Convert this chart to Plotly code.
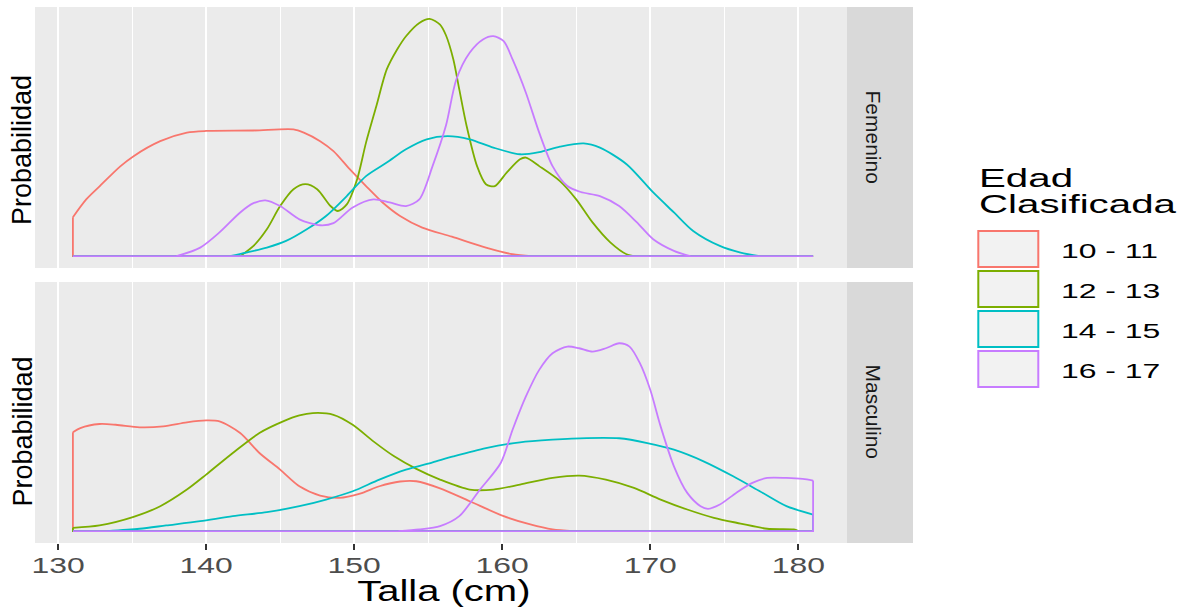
import plotly.graph_objects as go

# Density curves of height (Talla, cm) by age group, one panel per sex.
groups = ["10 - 11", "12 - 13", "14 - 15", "16 - 17"]
colors = ["#F8766D", "#7CAE00", "#00BFC4", "#C77CFF"]
x_min, x_max = 131.0, 181.0

# --- Femenino ---
fem_10_x = [131.0, 131.9, 132.8, 134.2, 135.1, 136.9, 138.7, 140.0, 143.2, 145.9, 146.6, 147.7,
            148.6, 149.7, 150.8, 151.9, 153.1, 154.6, 156.6, 158.9, 160.7, 162.0]
fem_10_d = [0.0164, 0.0239, 0.0294, 0.0378, 0.0421, 0.0484, 0.0520, 0.0527, 0.0529, 0.0534, 0.0520, 0.0484,
            0.0442, 0.0366, 0.0295, 0.0227, 0.0169, 0.0120, 0.0082, 0.0036, 0.0008, 0.0]

fem_12_x = [142.3, 143.2, 144.1, 145.0, 145.9, 146.7, 147.5, 148.4, 148.9, 149.5, 150.2, 150.8,
            151.5, 152.2, 152.9, 153.5, 154.4, 155.1, 155.8, 156.2, 156.7, 157.1, 157.6, 158.3,
            158.9, 159.5, 160.3, 161.2, 161.6, 162.5, 163.9, 165.0, 166.1, 167.3, 168.4, 169.0]
fem_12_d = [0.0, 0.0043, 0.0113, 0.0211, 0.0282, 0.0303, 0.0282, 0.0211, 0.0190, 0.0218, 0.0324, 0.0478,
            0.0632, 0.0786, 0.0870, 0.0926, 0.0982, 0.0999, 0.0975, 0.0930, 0.0828, 0.0702, 0.0547, 0.0379,
            0.0303, 0.0295, 0.0352, 0.0408, 0.0415, 0.0379, 0.0316, 0.0239, 0.0142, 0.0058, 0.0008, 0.0]

fem_14_x = [141.6, 142.7, 144.1, 145.4, 146.8, 148.1, 149.5, 150.8, 152.2, 153.5, 154.9, 156.3,
            157.8, 159.4, 161.2, 162.5, 163.9, 165.5, 166.6, 168.4, 170.2, 171.6, 172.9, 174.7,
            176.1, 177.4]
fem_14_d = [0.0, 0.0015, 0.0036, 0.0064, 0.0113, 0.0169, 0.0253, 0.0337, 0.0394, 0.0450, 0.0492, 0.0505,
            0.0492, 0.0457, 0.0429, 0.0438, 0.0461, 0.0475, 0.0457, 0.0387, 0.0268, 0.0184, 0.0106, 0.0043,
            0.0015, 0.0]

fem_16_x = [138.0, 139.6, 140.9, 142.3, 143.2, 144.0, 145.0, 146.3, 147.7, 148.6, 149.9, 151.3,
            152.4, 153.5, 154.4, 155.3, 156.2, 156.9, 157.8, 158.7, 159.4, 160.1, 160.7, 161.6,
            162.5, 163.4, 164.4, 165.3, 166.6, 167.9, 169.1, 170.2, 171.6, 172.7]
fem_16_d = [0.0, 0.0036, 0.0100, 0.0184, 0.0223, 0.0235, 0.0211, 0.0155, 0.0130, 0.0139, 0.0205, 0.0239,
            0.0226, 0.0211, 0.0239, 0.0380, 0.0550, 0.0744, 0.0856, 0.0912, 0.0926, 0.0905, 0.0828, 0.0688,
            0.0520, 0.0379, 0.0295, 0.0270, 0.0253, 0.0211, 0.0142, 0.0071, 0.0022, 0.0]

# --- Masculino ---
mas_10_x = [131.0, 131.5, 132.8, 133.9, 135.5, 137.1, 138.7, 140.0, 140.9, 142.3, 143.6, 145.0,
            146.3, 147.7, 149.0, 150.4, 151.7, 153.1, 154.2, 155.8, 157.8, 160.1, 161.9, 163.4, 164.8]
mas_10_d = [0.0416, 0.0434, 0.0451, 0.0448, 0.0437, 0.0441, 0.0458, 0.0466, 0.0462, 0.0413, 0.0329, 0.0259,
            0.0189, 0.0150, 0.0140, 0.0158, 0.0189, 0.0209, 0.0210, 0.0180, 0.0126, 0.0063, 0.0028, 0.0007, 0.0]

mas_12_x = [131.0, 132.8, 135.1, 136.9, 138.7, 140.0, 141.8, 143.6, 145.2, 146.3, 147.2, 148.6,
            149.9, 151.3, 152.7, 154.2, 155.8, 157.8, 159.4, 161.2, 163.4, 165.2, 167.0, 168.9,
            170.7, 172.5, 174.3, 176.1, 177.9, 179.7, 180.0]
mas_12_d = [0.0014, 0.0024, 0.0060, 0.0105, 0.0175, 0.0238, 0.0329, 0.0413, 0.0462, 0.0487, 0.0497, 0.0490,
            0.0448, 0.0378, 0.0315, 0.0262, 0.0217, 0.0175, 0.0175, 0.0196, 0.0224, 0.0234, 0.0217, 0.0182,
            0.0133, 0.0091, 0.0056, 0.0032, 0.0010, 0.0007, 0.0]

mas_14_x = [133.3, 135.5, 137.3, 139.6, 141.8, 144.1, 146.3, 148.1, 149.9, 151.7, 153.5, 155.3,
            156.7, 158.9, 161.2, 163.4, 165.7, 167.9, 169.8, 171.6, 173.6, 175.6, 177.4, 179.2, 181.0]
mas_14_d = [0.0, 0.0010, 0.0024, 0.0042, 0.0063, 0.0080, 0.0105, 0.0133, 0.0168, 0.0217, 0.0259, 0.0290,
            0.0315, 0.0350, 0.0374, 0.0385, 0.0392, 0.0391, 0.0371, 0.0343, 0.0294, 0.0231, 0.0168, 0.0105, 0.0070]

mas_16_x = [153.0, 154.4, 155.8, 157.1, 158.5, 159.9, 160.7, 161.6, 162.5, 163.4, 164.4, 165.2,
            166.1, 167.0, 167.9, 168.6, 169.3, 170.0, 170.7, 171.6, 172.5, 173.4, 173.9, 174.7,
            175.8, 176.9, 177.9, 179.2, 180.3, 181.0]
mas_16_d = [0.0, 0.0007, 0.0021, 0.0063, 0.0175, 0.0287, 0.0427, 0.0567, 0.0679, 0.0749, 0.0777, 0.0770,
            0.0756, 0.0770, 0.0791, 0.0777, 0.0707, 0.0595, 0.0441, 0.0273, 0.0161, 0.0105, 0.0094, 0.0112,
            0.0161, 0.0203, 0.0224, 0.0224, 0.0220, 0.0213]

panels = [
    ("Femenino", "x", "y", [(fem_10_x, fem_10_d), (fem_12_x, fem_12_d), (fem_14_x, fem_14_d), (fem_16_x, fem_16_d)]),
    ("Masculino", "x2", "y2", [(mas_10_x, mas_10_d), (mas_12_x, mas_12_d), (mas_14_x, mas_14_d), (mas_16_x, mas_16_d)]),
]

major_ticks = [130, 140, 150, 160, 170, 180]
minor_ticks = [135, 145, 155, 165, 175]

W, H = 1184, 610
def px(x):
    return x / W
def py(y):
    return 1 - y / H

fig = go.Figure()
for facet, xa, ya, curves in panels:
    for g, col, (xs, ds) in zip(groups, colors, curves):
        line = dict(color=col, width=1.8)
        # smooth density curve
        fig.add_trace(go.Scatter(x=xs, y=ds, mode="lines", xaxis=xa, yaxis=ya,
                                 line=dict(line, shape="spline", smoothing=0.8), name=g,
                                 showlegend=False, hoverinfo="skip"))
        # straight edges closing the outline along the baseline over the full data range
        fig.add_trace(go.Scatter(x=[xs[-1], x_max, x_min, xs[0]], y=[ds[-1], 0.0, 0.0, ds[0]],
                                 mode="lines", xaxis=xa, yaxis=ya, line=line, name=g,
                                 showlegend=False, hoverinfo="skip"))

ymax = max(max(d) for _, _, _, c in panels for _, d in c)
yrange = [-0.05 * ymax, 1.05 * ymax]
xrange = [128.44, 183.29]
xdom = [px(35), px(847)]

common_x = dict(range=xrange, domain=xdom, showgrid=True, gridcolor="white", gridwidth=2,
                tickvals=major_ticks, zeroline=False, showline=False,
                minor=dict(tickvals=minor_ticks, showgrid=True, gridcolor="white", gridwidth=1.4))
common_y = dict(range=yrange, showgrid=False, zeroline=False, showticklabels=False, ticks="",
                showline=False)

fig.update_layout(
    width=W, height=H, margin=dict(l=0, r=0, t=0, b=0),
    paper_bgcolor="white", plot_bgcolor="#EBEBEB", showlegend=False,
    font=dict(family="Liberation Sans, Arial, sans-serif"),
    xaxis=dict(common_x, anchor="y", showticklabels=False, ticks=""),
    yaxis=dict(common_y, anchor="x", domain=[py(268), py(7)]),
    xaxis2=dict(common_x, anchor="y2", ticks="outside", ticklen=6, tickwidth=1.6, tickcolor="#333333",
                tickfont=dict(size=22, color="#4D4D4D"), ticklabelstandoff=-3),
    yaxis2=dict(common_y, anchor="x2", domain=[py(543), py(282)]),
)

shapes = []
annotations = []

# facet strips on the right
for label, top, bot in [("Femenino", 7, 268), ("Masculino", 282, 543)]:
    shapes.append(dict(type="rect", xref="paper", yref="paper", x0=px(847), x1=px(913),
                       y0=py(bot), y1=py(top), fillcolor="#D9D9D9", line=dict(width=0), layer="below"))
    annotations.append(dict(text=label, xref="paper", yref="paper", x=px(873), y=py((top + bot) / 2),
                            showarrow=False, textangle=90, xanchor="center", yanchor="middle",
                            font=dict(size=21, color="#1A1A1A")))

# y axis titles, one per panel
for yc in [150, 431.5]:
    annotations.append(dict(text="Probabilidad", xref="paper", yref="paper", x=px(22), y=py(yc),
                            showarrow=False, textangle=-90, xanchor="center", yanchor="middle",
                            font=dict(size=27, color="black")))

wide_idx = []
# x axis title
wide_idx.append(len(annotations))
annotations.append(dict(text="Talla (cm)", xref="paper", yref="paper", x=px(444), y=py(591),
                        showarrow=False, xanchor="center", yanchor="middle", align="center",
                        font=dict(size=29, color="black")))

# legend: title, keys and labels
legend_idx = []
for t, yc in [("Edad", 178), ("Clasificada", 204)]:
    legend_idx.append(len(annotations))
    annotations.append(dict(text=t, xref="paper", yref="paper", x=px(977), y=py(yc),
                            showarrow=False, xanchor="left", yanchor="middle", align="left",
                            font=dict(size=26.5, color="black")))
for i, (g, col) in enumerate(zip(groups, colors)):
    top = 230 + 40 * i
    shapes.append(dict(type="rect", xref="paper", yref="paper", x0=px(978.3), x1=px(1038.3),
                       y0=py(top + 37), y1=py(top + 1), fillcolor="#F2F2F2",
                       line=dict(color=col, width=2)))
    legend_idx.append(len(annotations))
    annotations.append(dict(text=g, xref="paper", yref="paper", x=px(1059), y=py(top + 20.5),
                            showarrow=False, xanchor="left", yanchor="middle", align="left",
                            font=dict(size=21, color="black")))

fig.update_layout(shapes=shapes, annotations=annotations)

# horizontal text in this chart is set wide; stretch those labels along x
post = """
var gd = document.getElementById('{plot_id}');
function widen(el, s) {
  var b = el.getBBox();
  var a = el.getAttribute('text-anchor');
  var ax = a === 'start' ? b.x : (a === 'end' ? b.x + b.width : b.x + b.width / 2);
  var tr = el.getAttribute('transform') || '';
  el.setAttribute('transform', tr + ' translate(' + ax + ',0) scale(' + s + ',1) translate(' + (-ax) + ',0)');
}
gd.querySelectorAll('.xtick text, .x2tick text').forEach(function(t) { widen(t, 1.45); });
WIDE.forEach(function(i) {
  var t = gd.querySelector('.annotation[data-index="' + i + '"] text');
  if (t) widen(t, 1.38);
});
LEG.forEach(function(i) {
  var t = gd.querySelector('.annotation[data-index="' + i + '"] text');
  if (t) widen(t, 1.52);
});
""".replace("WIDE", str(wide_idx)).replace("LEG", str(legend_idx))

fig.write_html("out.html", post_script=post, config={"displayModeBar": False})
